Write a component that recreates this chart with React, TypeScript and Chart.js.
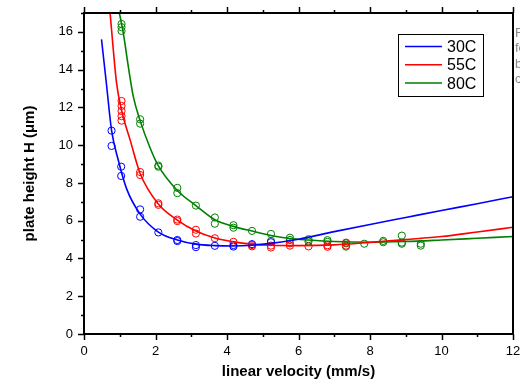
import React, { useEffect, useRef } from "react";
import { Chart, registerables } from "chart.js";

Chart.register(...registerables);

// Observed plate heights (circles)
const obs30X = [0.77, 0.77, 1.04, 1.04, 1.57, 1.57, 2.08, 2.61, 2.61, 3.13, 3.13, 3.66, 4.18, 4.18, 4.70, 5.23];
const obs30Y = [10.77, 9.96, 8.86, 8.37, 6.60, 6.21, 5.38, 4.98, 4.92, 4.71, 4.60, 4.67, 4.71, 4.63, 4.76, 4.86];

const obs55X = [1.05, 1.05, 1.05, 1.05, 1.05, 1.57, 1.57, 2.08, 2.08, 2.61, 2.61, 3.13, 3.13, 3.66, 4.18, 4.70, 4.70, 5.23, 5.23, 5.76, 5.76, 6.28, 6.81, 6.81, 7.33, 7.33];
const obs55Y = [12.34, 12.08, 11.81, 11.54, 11.30, 8.58, 8.42, 6.92, 6.84, 6.06, 5.98, 5.52, 5.32, 5.07, 4.88, 4.71, 4.64, 4.68, 4.58, 4.80, 4.68, 4.64, 4.70, 4.62, 4.84, 4.68];

const obs80X = [1.05, 1.05, 1.05, 1.57, 1.57, 2.08, 2.08, 2.61, 2.61, 3.13, 3.66, 3.66, 4.18, 4.18, 4.70, 5.23, 5.23, 5.76, 5.76, 6.28, 6.28, 6.81, 6.81, 7.33, 7.33, 7.84, 8.37, 8.37, 8.89, 8.89, 8.89, 9.42, 9.42];
const obs80Y = [16.42, 16.25, 16.05, 11.37, 11.14, 8.92, 8.86, 7.74, 7.46, 6.80, 6.17, 5.84, 5.76, 5.63, 5.46, 5.30, 4.93, 5.10, 4.98, 5.02, 4.90, 4.97, 4.88, 4.80, 4.63, 4.78, 4.93, 4.86, 5.21, 4.84, 4.78, 4.78, 4.68];

// Fitted curves (lines)
const fit30X = [0.49, 0.63, 0.77, 0.96, 1.19, 1.57, 2.08, 2.61, 3.13, 3.66, 4.18, 4.70, 5.23, 6, 7, 8, 9, 10, 11, 12];
const fit30Y = [15.6, 13.2, 10.8, 9.2, 7.7, 6.35, 5.4, 4.98, 4.76, 4.68, 4.66, 4.7, 4.8, 5.02, 5.42, 5.8, 6.17, 6.54, 6.9, 7.27];

const fit55X = [0.73, 0.82, 0.91, 1.05, 1.29, 1.57, 2.08, 2.61, 3.13, 3.66, 4.18, 4.70, 5.23, 6, 7, 8, 9, 10, 11, 12];
const fit55Y = [17, 15.05, 13.3, 11.85, 10.28, 8.5, 6.88, 6.03, 5.45, 5.08, 4.88, 4.76, 4.7, 4.68, 4.72, 4.85, 5.0, 5.16, 5.4, 5.65];

const fit80X = [0.99, 1.10, 1.24, 1.38, 1.57, 1.85, 2.08, 2.61, 3.13, 3.66, 4.18, 4.70, 5.23, 5.76, 6.28, 7, 8, 9, 10, 11, 12];
const fit80Y = [17, 15.93, 14.16, 12.57, 11.3, 9.85, 8.9, 7.6, 6.8, 6.05, 5.7, 5.45, 5.22, 5.06, 4.98, 4.9, 4.86, 4.9, 4.98, 5.07, 5.16];

const seriesNames = ["30C", "55C", "80C"];
const seriesColors = ["#0000ff", "#ff0000", "#008000"];
const sideText = ["F", "fo", "b", "c"];

const xMin = 0, xMax = 12, yMin = 0, yMax = 17;
const FONT = "'Liberation Sans', Arial, sans-serif";

const pts = (xs: number[], ys: number[]) => xs.map((x, i) => ({ x, y: ys[i] }));

const framePlugin = {
  id: "frameTicks",
  afterDraw(chart: any) {
    const { ctx, chartArea } = chart;
    const xs = chart.scales.x;
    const ys = chart.scales.y;
    const { left, right, top, bottom } = chartArea;
    ctx.save();
    ctx.strokeStyle = "#000";
    ctx.lineWidth = 2;
    ctx.strokeRect(left, top, right - left, bottom - top);
    ctx.lineWidth = 1.5;
    ctx.beginPath();
    for (let v = xMin; v <= xMax; v++) {
      const px = Math.round(xs.getPixelForValue(v)) + 0.5;
      const len = v % 2 === 0 ? 6 : 3;
      ctx.moveTo(px, bottom); ctx.lineTo(px, bottom + len);
      ctx.moveTo(px, top); ctx.lineTo(px, top - len);
    }
    for (let v = yMin; v <= yMax; v++) {
      const py = Math.round(ys.getPixelForValue(v)) + 0.5;
      const len = v % 2 === 0 ? 6 : 3;
      ctx.moveTo(left, py); ctx.lineTo(left - len, py);
    }
    ctx.stroke();

    // legend
    const lx = 398, ly = 34, lw = 85, lh = 62;
    ctx.fillStyle = "#fff";
    ctx.fillRect(lx, ly, lw, lh);
    ctx.lineWidth = 1;
    ctx.strokeStyle = "#000";
    ctx.strokeRect(lx + 0.5, ly + 0.5, lw, lh);
    ctx.font = `16px ${FONT}`;
    ctx.textBaseline = "middle";
    ctx.textAlign = "left";
    seriesNames.forEach((name, i) => {
      const yy = 46.5 + i * 18.3;
      ctx.strokeStyle = seriesColors[i];
      ctx.lineWidth = 1.5;
      ctx.beginPath();
      ctx.moveTo(405, yy);
      ctx.lineTo(442, yy);
      ctx.stroke();
      ctx.fillStyle = "#000";
      ctx.fillText(name, 447, yy + 1);
    });

    // clipped side text
    ctx.fillStyle = "#888";
    ctx.font = `13px ${FONT}`;
    ctx.textBaseline = "alphabetic";
    sideText.forEach((t, i) => ctx.fillText(t, 515, 36.5 + i * 15.6));
    ctx.restore();
  },
};

export default function App() {
  const ref = useRef<HTMLCanvasElement>(null);
  useEffect(() => {
    if (!ref.current) return;
    const fits = [pts(fit30X, fit30Y), pts(fit55X, fit55Y), pts(fit80X, fit80Y)];
    const obs = [pts(obs30X, obs30Y), pts(obs55X, obs55Y), pts(obs80X, obs80Y)];
    const datasets: any[] = [];
    fits.forEach((d, i) =>
      datasets.push({
        label: seriesNames[i] + " fit",
        data: d,
        showLine: true,
        borderColor: seriesColors[i],
        borderWidth: 1.6,
        pointRadius: 0,
        cubicInterpolationMode: "monotone",
        fill: false,
      })
    );
    obs.forEach((d, i) =>
      datasets.push({
        label: seriesNames[i],
        data: d,
        showLine: false,
        borderColor: seriesColors[i],
        backgroundColor: "rgba(0,0,0,0)",
        borderWidth: 1,
        pointRadius: 3.6,
        pointStyle: "circle",
      })
    );
    const chart = new Chart(ref.current, {
      type: "scatter",
      data: { datasets },
      options: {
        animation: false,
        responsive: false,
        maintainAspectRatio: false,
        layout: { padding: { top: 13, right: 7, left: 0, bottom: 0 } },
        plugins: { legend: { display: false }, tooltip: { enabled: false } },
        scales: {
          x: {
            type: "linear",
            min: xMin,
            max: xMax,
            grid: { display: false, drawTicks: false },
            border: { display: false },
            afterFit: (s: any) => {
              s.height = 47;
              s.paddingLeft = 0;
              s.paddingRight = 0;
            },
            ticks: {
              stepSize: 1,
              padding: 10,
              color: "#000",
              font: { family: FONT, size: 13 },
              maxRotation: 0,
              autoSkip: false,
              callback: (v: any) => (Number(v) % 2 === 0 ? String(v) : ""),
            },
            title: {
              display: true,
              text: "linear velocity (mm/s)",
              color: "#000",
              font: { family: FONT, size: 15, weight: "bold" },
              padding: { top: 0, bottom: 0 },
            },
          },
          y: {
            type: "linear",
            min: yMin,
            max: yMax,
            grid: { display: false, drawTicks: false },
            border: { display: false },
            afterFit: (s: any) => {
              s.width = 84;
              s.paddingTop = 0;
              s.paddingBottom = 0;
            },
            ticks: {
              stepSize: 1,
              padding: 11,
              color: "#000",
              font: { family: FONT, size: 13 },
              autoSkip: false,
              callback: (v: any) => (Number(v) % 2 === 0 && Number(v) <= 16 ? String(v) : ""),
            },
            title: {
              display: true,
              text: "plate height H (\u03bcm)",
              color: "#000",
              font: { family: FONT, size: 15, weight: "bold" },
              padding: { top: 21, bottom: 0 },
            },
          },
        },
      },
      plugins: [framePlugin],
    });
    return () => chart.destroy();
  }, []);
  return (
    <div style={{ position: "fixed", left: 0, top: 0, width: 520, height: 381, background: "#fff" }}>
      <canvas ref={ref} width={520} height={381} style={{ display: "block" }} />
    </div>
  );
}
